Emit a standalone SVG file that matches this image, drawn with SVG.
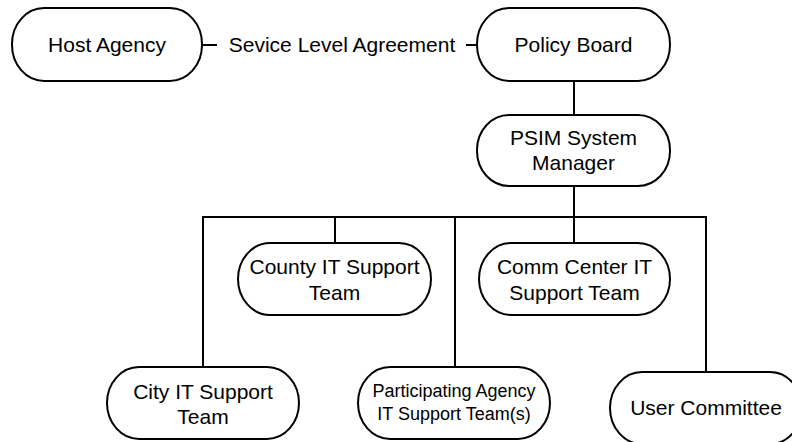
<svg xmlns="http://www.w3.org/2000/svg" width="792" height="442" viewBox="0 0 792 442">
<style>
.n{fill:#fff;stroke:#000;stroke-width:2}
.t{font-family:"Liberation Sans",Arial,sans-serif;font-size:21px;fill:#000;text-anchor:middle}
.s{font-size:18px}
.c{fill:none;stroke:#000;stroke-width:2}
</style>
<rect width="792" height="442" fill="#fff"/>
<g id="connectors">
<line class="c" x1="202" y1="45" x2="217" y2="45"/>
<line class="c" x1="466" y1="45" x2="477" y2="45"/>
<line class="c" x1="574" y1="81" x2="574" y2="115"/>
<line class="c" x1="574" y1="186" x2="574" y2="217"/>
<polyline class="c" points="203,367 203,217 706,217 706,372"/>
<line class="c" x1="335" y1="217" x2="335" y2="243"/>
<line class="c" x1="455" y1="217" x2="455" y2="367"/>
<line class="c" x1="574" y1="217" x2="574" y2="243"/>
<text class="t" x="342" y="52">Sevice Level Agreement</text>
</g>
<g id="host-agency">
<rect class="n" x="12" y="8" width="190" height="73" rx="32" ry="36"/>
<text class="t" x="107" y="52">Host Agency</text>
</g>
<g id="policy-board">
<rect class="n" x="477" y="8" width="193" height="73" rx="32" ry="36"/>
<text class="t" x="573.5" y="52">Policy Board</text>
</g>
<g id="psim-manager">
<rect class="n" x="477" y="115" width="193" height="71" rx="32" ry="35"/>
<text class="t" x="573.5" y="145">PSIM System</text>
<text class="t" x="573.5" y="170">Manager</text>
</g>
<g id="county-it">
<rect class="n" x="238" y="243" width="193" height="72" rx="32" ry="36"/>
<text class="t" x="334.5" y="274">County IT Support</text>
<text class="t" x="334.5" y="300">Team</text>
</g>
<g id="comm-center-it">
<rect class="n" x="479" y="243" width="191" height="72" rx="32" ry="36"/>
<text class="t" x="574.5" y="274">Comm Center IT</text>
<text class="t" x="574.5" y="300">Support Team</text>
</g>
<g id="city-it">
<rect class="n" x="107" y="367" width="192" height="72" rx="32" ry="36"/>
<text class="t" x="203" y="399">City IT Support</text>
<text class="t" x="203" y="424">Team</text>
</g>
<g id="participating-agency-it">
<rect class="n" x="358" y="367" width="192" height="72" rx="32" ry="36"/>
<text class="t s" x="454" y="397">Participating Agency</text>
<text class="t s" x="454" y="420">IT Support Team(s)</text>
</g>
<g id="user-committee">
<rect class="n" x="610" y="372" width="192" height="72" rx="32" ry="36"/>
<text class="t" x="706" y="415">User Committee</text>
</g>
</svg>
